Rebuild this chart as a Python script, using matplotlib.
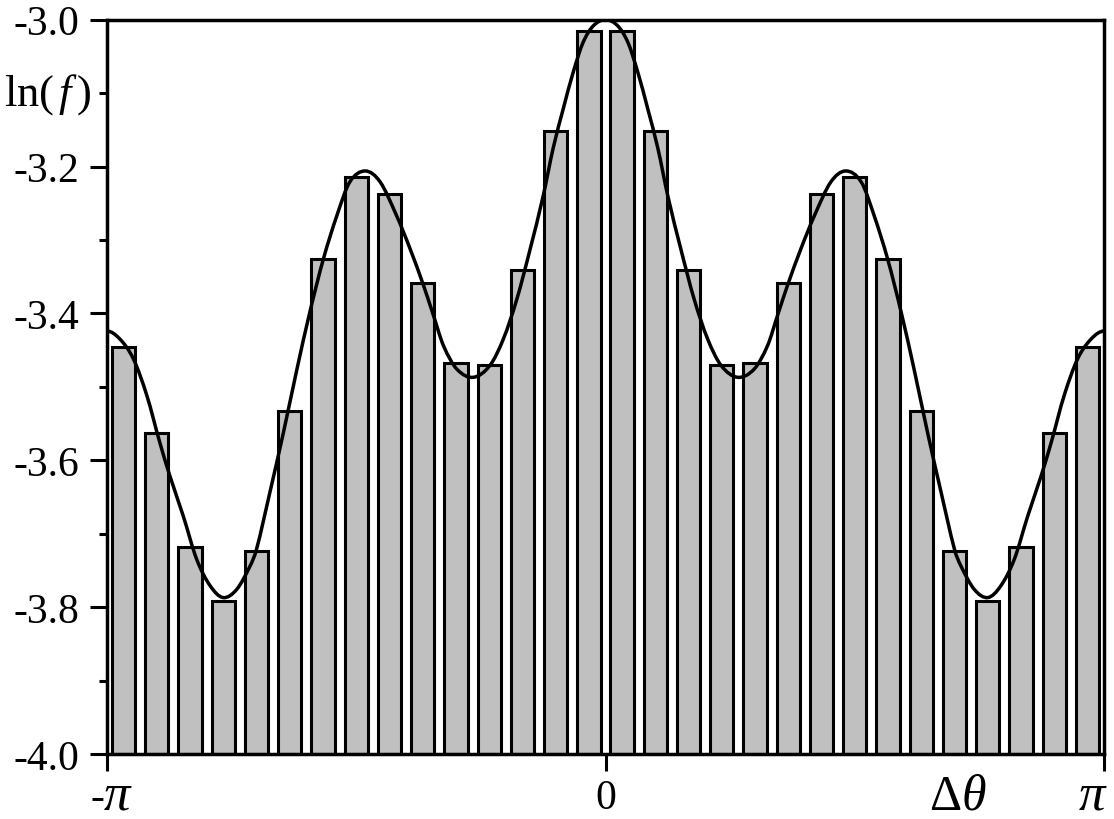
import numpy as np
import matplotlib
matplotlib.use('Agg')
import matplotlib.pyplot as plt
from matplotlib.ticker import FixedLocator
from matplotlib.path import Path
from matplotlib.patches import PathPatch

plt.rcParams['font.family'] = ['Liberation Serif', 'DejaVu Serif']
plt.rcParams['mathtext.fontset'] = 'custom'
plt.rcParams['mathtext.rm'] = 'Liberation Serif'
plt.rcParams['mathtext.it'] = 'Liberation Serif:italic'
plt.rcParams['axes.unicode_minus'] = False

# ---- data ----
n_bins = 30
bar_values = [-3.446, -3.563, -3.718, -3.792, -3.723, -3.533, -3.326, -3.214,
              -3.238, -3.358, -3.467, -3.470, -3.341, -3.151, -3.016, -3.016,
              -3.151, -3.341, -3.470, -3.467, -3.358, -3.238, -3.214, -3.326,
              -3.533, -3.723, -3.792, -3.718, -3.563, -3.446]

curve_theta_over_pi = [
    -1.000, -0.974, -0.947, -0.920, -0.894, -0.874, -0.847, -0.820, -0.793, -0.767,
    -0.740, -0.713, -0.700, -0.673, -0.646, -0.619, -0.593, -0.566, -0.539, -0.513,
    -0.482, -0.452, -0.419, -0.392, -0.365, -0.345, -0.325, -0.298, -0.265, -0.232,
    -0.205, -0.178, -0.151, -0.125, -0.105, -0.085, -0.065, -0.045, -0.024, 0.000,
    0.024, 0.045, 0.065, 0.085, 0.105, 0.125, 0.151, 0.178, 0.205, 0.232,
    0.265, 0.298, 0.325, 0.345, 0.365, 0.392, 0.419, 0.452, 0.482, 0.513,
    0.539, 0.566, 0.593, 0.619, 0.646, 0.673, 0.700, 0.713, 0.740, 0.767,
    0.793, 0.820, 0.847, 0.874, 0.894, 0.920, 0.947, 0.974, 1.000]
curve_values = [
    -3.424, -3.435, -3.462, -3.512, -3.576, -3.621, -3.676, -3.735, -3.771, -3.787,
    -3.776, -3.744, -3.721, -3.643, -3.562, -3.476, -3.398, -3.326, -3.267, -3.221,
    -3.206, -3.221, -3.267, -3.312, -3.362, -3.403, -3.444, -3.476, -3.487, -3.471,
    -3.435, -3.381, -3.312, -3.240, -3.175, -3.122, -3.072, -3.031, -3.008, -3.000,
    -3.008, -3.031, -3.072, -3.122, -3.175, -3.240, -3.312, -3.381, -3.435, -3.471,
    -3.487, -3.476, -3.444, -3.403, -3.362, -3.312, -3.267, -3.221, -3.206, -3.221,
    -3.267, -3.326, -3.398, -3.476, -3.562, -3.643, -3.721, -3.744, -3.776, -3.787,
    -3.771, -3.735, -3.676, -3.621, -3.576, -3.512, -3.462, -3.435, -3.424]

ytick_values = [-4.0, -3.8, -3.6, -3.4, -3.2, -3.0]
ytick_labels = ['-4.0', '-3.8', '-3.6', '-3.4', '-3.2', '-3.0']
yminor_values = [-3.9, -3.7, -3.5, -3.3, -3.1]
xtick_values = [-np.pi, 0.0, np.pi]
y_label = r'ln($\,f\,$)'
x_label = r'$\Delta\theta$'

# ---- figure ----
W, H = 1114, 820
fig = plt.figure(figsize=(W / 100, H / 100), dpi=100)
ax = fig.add_axes([107 / W, 1 - 755 / H, (1104 - 107) / W, (755 - 20.7) / H])

dtheta = 2 * np.pi / n_bins
centers = -np.pi + dtheta * (np.arange(n_bins) + 0.5)
ax.bar(centers, np.array(bar_values) + 4.0, bottom=-4.0, width=0.70 * dtheta,
       color='#c0c0c0', edgecolor='black', linewidth=2.2, zorder=2)

# smooth line through the read curve points (cubic Hermite segments)
cx = np.array(curve_theta_over_pi) * np.pi
cy = np.array(curve_values)
n = len(cx)
slopes = np.zeros(n)
for i in range(1, n - 1):
    slopes[i] = (cy[i + 1] - cy[i - 1]) / (cx[i + 1] - cx[i - 1])
verts = [(cx[0], cy[0])]
codes = [Path.MOVETO]
for i in range(n - 1):
    h = cx[i + 1] - cx[i]
    verts += [(cx[i] + h / 3, cy[i] + slopes[i] * h / 3),
              (cx[i + 1] - h / 3, cy[i + 1] - slopes[i + 1] * h / 3),
              (cx[i + 1], cy[i + 1])]
    codes += [Path.CURVE4, Path.CURVE4, Path.CURVE4]
ax.add_patch(PathPatch(Path(verts, codes), facecolor='none', edgecolor='black',
                       lw=2.5, zorder=3))

ax.set_xlim(-np.pi, np.pi)
ax.set_ylim(-4.0, -3.0)

for s in ax.spines.values():
    s.set_linewidth(2.5)
    s.set_zorder(4)

ax.yaxis.set_major_locator(FixedLocator(ytick_values))
ax.set_yticklabels(ytick_labels)
ax.yaxis.set_minor_locator(FixedLocator(yminor_values))
ax.tick_params(axis='y', which='major', direction='out', length=12, width=2.2,
               labelsize=30, pad=8)
ax.tick_params(axis='y', which='minor', direction='out', length=6, width=2.2)

ax.xaxis.set_major_locator(FixedLocator(xtick_values))
ax.set_xticklabels(['', '', ''])
ax.tick_params(axis='x', which='major', direction='out', length=12, width=2.2)

px = 0.72  # points per pixel
base = -39  # baseline offset (points) below the axis


def xlabel_text(txt, xv, dx_px, fs, ha):
    ax.annotate(txt, xy=(xv, 0), xycoords=('data', 'axes fraction'),
                xytext=(dx_px * px, base), textcoords='offset points',
                ha=ha, va='baseline', fontsize=fs, annotation_clip=False)


xlabel_text('-', xtick_values[0], -3, 30, 'right')
xlabel_text(r'$\pi$', xtick_values[0], -4, 38, 'left')
xlabel_text('0', xtick_values[1], 0, 30, 'center')
xlabel_text(r'$\pi$', xtick_values[2], -11, 38, 'center')

ax.annotate(y_label, xy=(0, -3.1), xycoords=('axes fraction', 'data'),
            xytext=(-11, 0), textcoords='offset points', ha='right', va='center',
            fontsize=32)
ax.annotate(x_label, xy=(0.707 * np.pi, 0), xycoords=('data', 'axes fraction'),
            xytext=(0, base), textcoords='offset points', ha='center',
            va='baseline', fontsize=36)

fig.savefig('out.png', dpi=100)
